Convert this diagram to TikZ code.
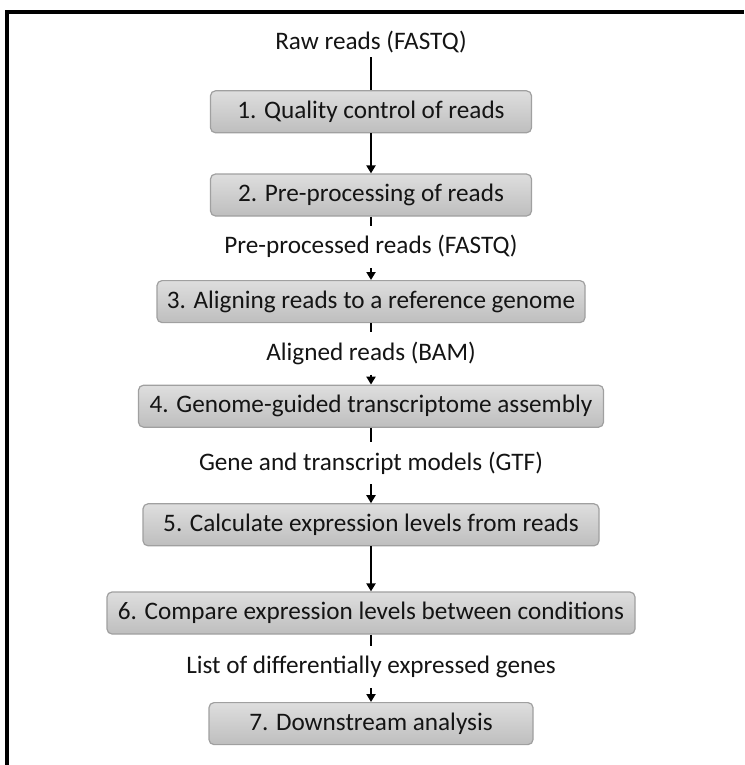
\documentclass[tikz,border=0pt]{standalone}
\usepackage{fontspec}
\setmainfont{Carlito}
\usepackage{tikz}
\usetikzlibrary{arrows.meta, positioning}
\definecolor{boxtop}{RGB}{222,222,222}
\definecolor{boxbot}{RGB}{190,190,190}
\definecolor{boxedge}{RGB}{160,160,160}
\definecolor{inktext}{RGB}{20,20,20}
\tikzset{
    stagebox/.style={rectangle, draw=boxedge, top color=boxtop, bottom color=boxbot, rounded corners=5pt, minimum width=#1, minimum height=42pt, inner sep=0pt, align=center, text=inktext, font=\fontsize{25.2}{30}\selectfont, line width=1.2pt},
    datalabel/.style={inner sep=0pt, minimum height=42pt, text=inktext, font=\fontsize{25.2}{30}\selectfont},
    flowline/.style={black, line width=2.6pt},
    flowarrow/.style={-{Triangle[length=8pt, width=9pt]}, black, line width=2.6pt}
}

\begin{document}
\begin{tikzpicture}[x=1pt, y=-1pt]
\useasboundingbox (0,0) rectangle (744,765);

% frame
\draw[line width=4pt] (7,765) |- (744,12);

\node[datalabel, minimum height=30pt] (raw) at (371,42) {Raw reads (FASTQ)};
\node[stagebox=321pt, below=33pt of raw] (qc) {1. Quality control of reads};
\node[stagebox=321pt, below=40pt of qc] (prep) {2. Pre-processing of reads};
\node[datalabel, below=9pt of prep] (preplab) {Pre-processed reads (FASTQ)};
\node[stagebox=428pt, below=12pt of preplab] (align) {3. Aligning reads to a reference genome};
\node[datalabel, below=9pt of align] (alignlab) {Aligned reads (BAM)};
\node[stagebox=465pt, below=10pt of alignlab] (assem) {4. Genome-guided transcriptome assembly};
\node[datalabel, below=14pt of assem] (assemlab) {Gene and transcript models (GTF)};
\node[stagebox=456pt, below=19pt of assemlab] (expr) {5. Calculate expression levels from reads};
\node[stagebox=528pt, below=45pt of expr] (comp) {6. Compare expression levels between conditions};
\node[datalabel, below=11pt of comp] (complab) {List of differentially expressed genes};
\node[stagebox=324pt, below=14pt of complab] (down) {7. Downstream analysis};

\draw[flowline] (raw) -- (qc);
\draw[flowarrow] (qc) -- (prep);
\draw[flowline] (prep) -- (preplab);
\draw[flowarrow] (preplab) -- (align);
\draw[flowline] (align) -- (alignlab);
\draw[flowarrow] (alignlab) -- (assem);
\draw[flowline] (assem) -- (assemlab);
\draw[flowarrow] (assemlab) -- (expr);
\draw[flowarrow] (expr) -- (comp);
\draw[flowline] (comp) -- (complab);
\draw[flowarrow] (complab) -- (down);

\end{tikzpicture}
\end{document}
